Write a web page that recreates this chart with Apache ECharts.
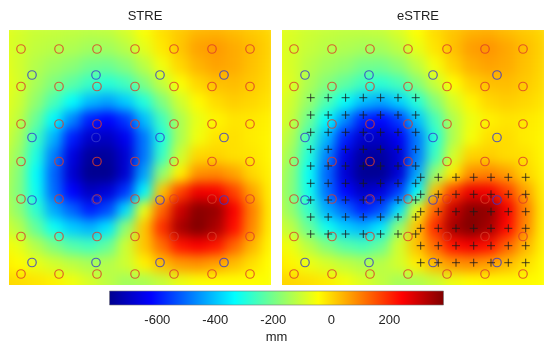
<!DOCTYPE html>
<html><head><meta charset="utf-8">
<script src="https://cdn.jsdelivr.net/npm/echarts@6/dist/echarts.min.js"></script>
<style>
html,body{margin:0;padding:0;background:#fff;width:550px;height:345px;overflow:hidden}
.map{position:absolute;top:0;width:320px;height:345px;filter:blur(6px);clip-path:inset(30px 29px 60px 29px)}
#m1{left:-20px}#m2{left:253px}
#main{position:absolute;left:0;top:0;width:550px;height:345px}
</style></head><body>
<div id="m1" class="map"></div><div id="m2" class="map"></div><div id="main"></div>
<script>
const titles = ['STRE', 'eSTRE'];
const unitLabel = 'mm';
const tickValues = [-600, -400, -200, 0, 200];
const scaleMin = -765, scaleMax = 387;
const jetStops = ['#00008f', '#0000ff', '#00ffff', '#ffff00', '#ff0000', '#800000'];
const jetOffsets = [0, 0.125, 0.375, 0.625, 0.875, 1];
const jetTable = ['#00008f','#0000ff','#0080ff','#00ffff','#80ff80','#ffff00','#ff8000','#ff0000','#800000'];
const streGrid = [
[-70,-90,-105,-110,-115,-120,-115,-90,-50,-10,15,35,40,30,15,0],
[-70,-95,-115,-125,-135,-150,-150,-125,-75,-20,20,60,70,50,30,5],
[-60,-95,-130,-155,-175,-205,-210,-180,-125,-60,0,40,60,50,25,0],
[-55,-90,-145,-190,-230,-270,-290,-260,-190,-115,-50,0,25,30,15,-5],
[-60,-100,-170,-250,-330,-410,-440,-390,-295,-190,-100,-40,-5,10,0,-15],
[-65,-115,-215,-340,-470,-590,-620,-560,-410,-260,-140,-70,-35,-15,-20,-30],
[-70,-140,-265,-420,-590,-690,-700,-640,-490,-300,-140,-60,-15,-10,-25,-35],
[-90,-160,-300,-480,-660,-750,-750,-680,-490,-270,-100,0,5,-10,-15,-35],
[-100,-180,-330,-510,-680,-765,-765,-680,-440,-170,-30,80,90,60,0,-30],
[-110,-185,-320,-500,-620,-700,-670,-560,-340,20,170,260,250,170,60,-25],
[-100,-170,-280,-430,-510,-590,-540,-370,-70,130,300,375,360,250,100,-20],
[-80,-125,-220,-320,-390,-420,-360,-170,20,190,340,385,340,230,90,-25],
[-40,-70,-130,-190,-240,-260,-220,-100,20,120,220,250,220,130,40,-35],
[-20,-40,-70,-95,-120,-140,-130,-100,-30,30,70,80,60,30,-10,-45],
[0,-5,-15,-30,-60,-90,-120,-150,-140,-110,-70,-50,-45,-45,-45,-50],
[0,-5,-15,-30,-60,-90,-120,-150,-150,-120,-80,-60,-50,-50,-50,-50]
];
const estreGrid = [
[-70,-85,-100,-110,-115,-115,-110,-85,-45,-5,20,40,45,30,15,0],
[-65,-90,-110,-125,-135,-145,-145,-120,-70,-15,25,65,75,55,30,5],
[-55,-90,-125,-150,-170,-200,-205,-175,-120,-55,5,45,60,50,25,0],
[-50,-85,-140,-185,-225,-265,-285,-255,-185,-110,-45,5,25,30,15,-5],
[-55,-100,-165,-245,-325,-405,-435,-385,-290,-185,-95,-35,0,10,0,-15],
[-60,-110,-210,-335,-465,-585,-615,-555,-405,-255,-135,-65,-30,-15,-20,-30],
[-70,-135,-260,-415,-585,-685,-695,-635,-485,-295,-135,-55,-10,-5,-25,-35],
[-85,-155,-295,-475,-655,-745,-745,-675,-485,-265,-95,5,10,-5,-10,-35],
[-95,-175,-325,-505,-675,-760,-760,-675,-435,-165,-25,85,95,65,5,-30],
[-105,-180,-315,-495,-615,-695,-665,-555,-335,25,175,265,255,175,65,-25],
[-95,-165,-275,-425,-505,-585,-535,-365,-65,135,305,375,365,255,105,-20],
[-75,-120,-215,-315,-385,-415,-355,-165,25,195,345,385,345,235,95,-25],
[-35,-65,-125,-185,-235,-255,-215,-95,25,125,225,255,225,135,45,-30],
[-15,-35,-65,-90,-115,-135,-125,-95,-25,35,75,85,65,35,-5,-40],
[0,0,-10,-25,-55,-85,-115,-145,-135,-105,-65,-45,-40,-40,-40,-45],
[0,0,-10,-25,-55,-85,-115,-145,-145,-115,-75,-55,-45,-45,-45,-45]
];
const refX = [12, 50, 88, 126, 165, 203, 241];
const refY = [19, 56.5, 94, 131.5, 169, 206.5, 244];
const repeatX = [23, 87, 151, 215];
const repeatY = [45, 107.5, 170, 232.5];
const crossAX = [28.7, 46.2, 63.6, 81.3, 98.6, 116, 133.7];
const crossAY = [67.7, 85, 102.3, 119.3, 136, 153.3, 170, 187, 204];
const crossBX = [138.7, 156.3, 174, 191.7, 209, 226.3, 243.7];
const crossBY = [147.3, 164.3, 181.7, 198.3, 215.7, 232.7];

function pairs(xs, ys){ const o=[]; ys.forEach(y=>xs.forEach(x=>o.push([x,y]))); return o; }

function heat(id, matrix){
  const c = echarts.init(document.getElementById(id), null, {renderer:'canvas'});
  const cells = [];
  matrix.forEach((r,j)=>r.forEach((v,i)=>cells.push([i,j,v])));
  const idx = matrix[0].map((_,i)=>i);
  const rowIdx = matrix.map((_,i)=>i);
  c.setOption({
    animation:false,
    grid:{left:11,top:21,width:288,height:288},
    xAxis:{type:'category',data:idx,show:false},
    yAxis:{type:'category',data:rowIdx,show:false,inverse:true},
    visualMap:{show:false,min:scaleMin,max:scaleMax,dimension:2,inRange:{color:jetTable}},
    series:[{type:'heatmap',data:cells,progressive:0,itemStyle:{borderWidth:0}}]
  });
}
heat('m1', streGrid);
heat('m2', estreGrid);

const font = {fontFamily:'Liberation Sans, Arial, sans-serif',fontSize:13,color:'#222'};
const chart = echarts.init(document.getElementById('main'), null, {renderer:'canvas'});
const panels = [{left:9,top:30,width:262,height:255},{left:282,top:30,width:262,height:255}];
const xAxes = panels.map((p,i)=>({type:'value',gridIndex:i,min:0,max:262,show:false}));
const yAxes = panels.map((p,i)=>({type:'value',gridIndex:i,min:0,max:255,inverse:true,show:false}));
const grad = {type:'linear',x:0,y:0,x2:1,y2:0,colorStops:jetStops.map((c,i)=>({offset:jetOffsets[i],color:c}))};
xAxes.push({type:'value',gridIndex:2,position:'bottom',min:scaleMin,max:scaleMax,
  splitLine:{show:false},
  axisLine:{show:false},
  axisTick:{show:true,inside:true,length:3,customValues:tickValues,lineStyle:{color:'#444',width:1}},
  axisLabel:{customValues:tickValues,margin:9,...font},
  name:unitLabel,nameLocation:'middle',nameGap:26,nameTextStyle:font});
xAxes.push({type:'value',gridIndex:2,position:'top',min:scaleMin,max:scaleMax,
  splitLine:{show:false},axisLine:{show:false},axisLabel:{show:false},
  axisTick:{show:true,inside:true,length:3,customValues:tickValues,lineStyle:{color:'#444',width:1}}});
yAxes.push({type:'value',gridIndex:2,min:0,max:1,show:false});

function rings(i, data, color){
  return {type:'scatter',xAxisIndex:i,yAxisIndex:i,data,symbol:'circle',symbolSize:8.5,silent:true,
    itemStyle:{color:'rgba(0,0,0,0)',borderColor:color,borderWidth:1.2,opacity:0.8}};
}
function plus(data){
  return {type:'scatter',xAxisIndex:1,yAxisIndex:1,data,symbol:'path://M0 -4L0 4M-4 0L4 0',symbolSize:8,silent:true,
    itemStyle:{color:'none',borderColor:'#1a1a1a',borderWidth:1,opacity:0.8}};
}
const series = [];
[0,1].forEach(i=>{
  series.push(rings(i,pairs(refX,refY),'#dc3c28'));
  series.push(rings(i,pairs(repeatX,repeatY),'#3438d0'));
});
series.push(plus(pairs(crossAX,crossAY)));
series.push(plus(pairs(crossBX,crossBY)));
series.push({type:'custom',xAxisIndex:2,yAxisIndex:2,data:[[scaleMin,scaleMax]],silent:true,
  renderItem:(p,api)=>{
    const a=api.coord([api.value(0),0]), b=api.coord([api.value(1),1]);
    return {type:'rect',shape:{x:a[0],y:b[1],width:b[0]-a[0],height:a[1]-b[1]},style:{fill:grad,stroke:'#777',lineWidth:0.6}};
  },z:1});
chart.setOption({
  animation:false,
  backgroundColor:'transparent',
  title:panels.map((p,i)=>({text:titles[i],left:p.left+p.width/2,top:5,textAlign:'center',textStyle:{...font,fontWeight:'normal'}})),
  grid:[...panels,{left:109.5,top:291,width:334,height:15}],
  xAxis:xAxes,yAxis:yAxes,series
});
</script></body></html>
